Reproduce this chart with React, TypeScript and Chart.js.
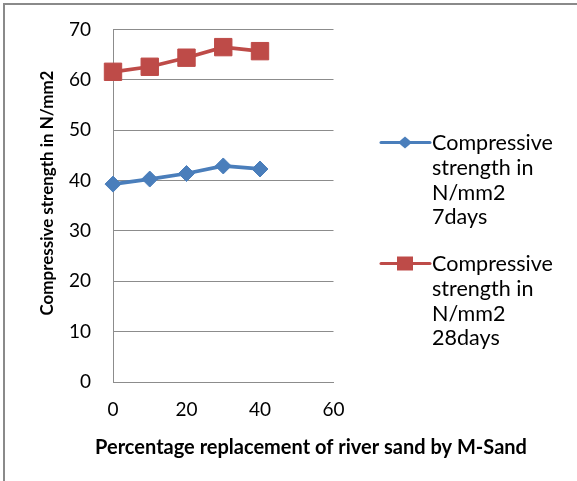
import React, { useEffect, useRef } from 'react';
import { Chart, registerables } from 'chart.js';

Chart.register(...registerables);

// ---- data ----
const replacementPct = [0, 10, 20, 30, 40];
const strength7days = [39.3, 40.3, 41.4, 42.9, 42.3];
const strength28days = [61.6, 62.6, 64.4, 66.5, 65.7];
const legend7days = ['Compressive', 'strength in', 'N/mm2', '7days'];
const legend28days = ['Compressive', 'strength in', 'N/mm2', '28days'];
const xAxisTitle = 'Percentage replacement of river sand by M-Sand';
const yAxisTitle = 'Compressive strength in N/mm2';
const xRange = [0, 60];
const yRange = [0, 70];

const BLUE = '#4A7EBB';
const RED = '#BE4B48';
const GRID = '#8c8c8c';
const FAMILY = 'Lato, "Open Sans", sans-serif';

function fitSize(ctx: CanvasRenderingContext2D, text: string, target: number, weight: string) {
  ctx.font = `${weight} 100px ${FAMILY}`;
  const w = ctx.measureText(text).width;
  return (100 * target) / w;
}

const overlayPlugin = {
  id: 'overlay',
  afterDraw(chart: any) {
    const ctx: CanvasRenderingContext2D = chart.ctx;
    ctx.save();
    ctx.fillStyle = '#000';
    // x title
    let s = fitSize(ctx, xAxisTitle, 432, 'bold');
    ctx.font = `bold ${s}px ${FAMILY}`;
    ctx.textAlign = 'center';
    ctx.textBaseline = 'alphabetic';
    ctx.fillText(xAxisTitle, 311, 453.5);
    // y title
    s = fitSize(ctx, yAxisTitle, 245, 'bold');
    ctx.font = `bold ${s}px ${FAMILY}`;
    ctx.save();
    ctx.translate(53.3, 193);
    ctx.rotate(-Math.PI / 2);
    ctx.fillText(yAxisTitle, 0, 0);
    ctx.restore();

    // legend
    const ls = fitSize(ctx, 'Compressive', 121, 'normal');
    const entries = [
      { lines: legend7days, color: BLUE, style: 'diamond', y: 142.5 },
      { lines: legend28days, color: RED, style: 'square', y: 263.5 },
    ];
    entries.forEach((e) => {
      ctx.strokeStyle = e.color;
      ctx.fillStyle = e.color;
      ctx.lineWidth = 3;
      ctx.lineCap = 'round';
      ctx.beginPath();
      ctx.moveTo(381, e.y);
      ctx.lineTo(430, e.y);
      ctx.stroke();
      ctx.beginPath();
      if (e.style === 'diamond') {
        const r = 7;
        ctx.moveTo(405 - r, e.y);
        ctx.lineTo(405, e.y - r * 0.85);
        ctx.lineTo(405 + r, e.y);
        ctx.lineTo(405, e.y + r * 0.85);
        ctx.closePath();
      } else {
        ctx.rect(405 - 8, e.y - 7, 16, 14);
      }
      ctx.fill();
      ctx.fillStyle = '#000';
      ctx.font = `normal ${ls}px ${FAMILY}`;
      ctx.textAlign = 'left';
      ctx.textBaseline = 'alphabetic';
      e.lines.forEach((t, i) => {
        ctx.fillText(t, 432, e.y + 7.8 + i * 24.6);
      });
    });
    ctx.restore();
  },
};

export default function App() {
  const ref = useRef<HTMLCanvasElement | null>(null);
  useEffect(() => {
    let chart: Chart | null = null;
    let cancelled = false;
    const make = () => {
      if (cancelled || !ref.current) return;
      chart = new Chart(ref.current, {
        type: 'line',
        data: {
          datasets: [
            {
              label: legend7days.join(' '),
              data: replacementPct.map((x, i) => ({ x, y: strength7days[i] })),
              borderColor: BLUE,
              backgroundColor: BLUE,
              borderWidth: 3.75,
              pointStyle: 'rectRot',
              pointRadius: 8,
              pointBorderWidth: 1,
              pointBackgroundColor: BLUE,
              pointBorderColor: BLUE,
              tension: 0,
              clip: false,
            },
            {
              label: legend28days.join(' '),
              data: replacementPct.map((x, i) => ({ x, y: strength28days[i] })),
              borderColor: RED,
              backgroundColor: RED,
              borderWidth: 3.75,
              pointStyle: 'rect',
              pointRadius: 12.3,
              pointBorderWidth: 1,
              pointBackgroundColor: RED,
              pointBorderColor: RED,
              tension: 0,
              clip: false,
            },
          ],
        },
        options: {
          responsive: false,
          animation: false,
          layout: { autoPadding: false, padding: { top: 29.5, right: 243.5, left: 0, bottom: 0 } },
          plugins: { legend: { display: false }, tooltip: { enabled: false } },
          scales: {
            x: {
              type: 'linear',
              min: xRange[0],
              max: xRange[1],
              afterFit: (scale: any) => {
                scale.height = 99;
              },
              ticks: {
                stepSize: 20,
                padding: 16.5,
                color: '#000',
                font: { family: FAMILY, size: 19 },
              },
              grid: { display: false, drawTicks: false },
              border: { display: true, color: GRID, width: 1 },
              title: { display: false },
            },
            y: {
              min: yRange[0],
              max: yRange[1],
              afterFit: (scale: any) => {
                scale.width = 113;
              },
              ticks: {
                stepSize: 10,
                padding: 0,
                color: '#000',
                font: { family: FAMILY, size: 19 },
              },
              grid: {
                color: GRID,
                lineWidth: 1,
                drawTicks: true,
                tickLength: 22,
                tickColor: 'rgba(0,0,0,0)',
              },
              border: { display: true, color: GRID, width: 1 },
              title: { display: false },
            },
          },
        },
        plugins: [overlayPlugin],
      });
    };
    const fonts = (document as any).fonts;
    if (fonts && fonts.load) {
      Promise.all([fonts.load(`19px ${FAMILY}`), fonts.load(`bold 19px ${FAMILY}`)])
        .catch(() => null)
        .then(make);
    } else {
      make();
    }
    return () => {
      cancelled = true;
      if (chart) chart.destroy();
    };
  }, []);

  return (
    <div style={{ position: 'absolute', left: 0, top: 0, width: 577, height: 481, background: '#fff' }}>
      <div
        style={{
          position: 'absolute',
          left: 3,
          top: 3,
          width: 574,
          height: 478,
          borderLeft: '2px solid #8a8a8a',
          borderTop: '2px solid #8a8a8a',
          boxSizing: 'border-box',
        }}
      />
      <canvas ref={ref} width={577} height={481} style={{ position: 'absolute', left: 0, top: 0 }} />
    </div>
  );
}
